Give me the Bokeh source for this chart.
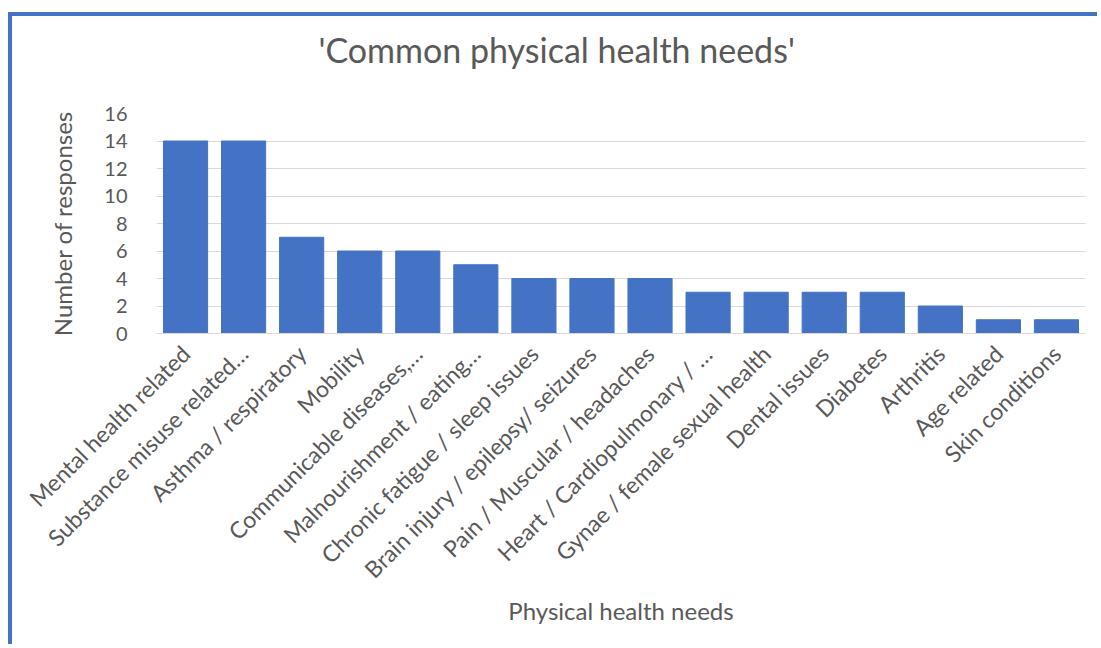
import math
from bokeh.plotting import figure
from bokeh.models import FactorRange, Range1d, Title, SingleIntervalTicker
from bokeh.embed import file_html
from bokeh.resources import INLINE

categories = [
    "Mental health related",
    "Substance misuse related…",
    "Asthma / respiratory",
    "Mobility",
    "Communicable diseases,…",
    "Malnourishment / eating…",
    "Chronic fatigue / sleep issues",
    "Brain injury / epilepsy/ seizures",
    "Pain / Muscular / headaches",
    "Heart / Cardiopulmonary / …",
    "Gynae / female sexual health",
    "Dental issues",
    "Diabetes",
    "Arthritis",
    "Age related",
    "Skin conditions",
]
responses = [14, 14, 7, 6, 6, 5, 4, 4, 4, 3, 3, 3, 3, 2, 1, 1]

title_text = "'Common physical health needs'"
x_title = "Physical health needs"
y_title = "Number of responses"

FONT = "Lato"
TEXT = "#595959"
BLUE = "#4472C4"
GRID = "#D9D9D9"

p = figure(
    width=1089, height=632,
    x_range=FactorRange(factors=categories, range_padding=0),
    y_range=Range1d(0, 16),
    output_backend="svg", toolbar_location=None,
    min_border_left=144, min_border_right=16,
    min_border_top=97, min_border_bottom=315,
)
# chart frame: blue rule along the top and left edges
p.styles = {
    "margin-left": "8px",
    "margin-top": "12px",
    "border-top": f"4px solid {BLUE}",
    "border-left": f"4px solid {BLUE}",
}
p.outline_line_color = None
p.background_fill_color = "white"
p.border_fill_color = "white"

p.vbar(x=categories, top=responses, width=0.76, color=BLUE)

p.yaxis.ticker = SingleIntervalTicker(interval=2)
p.yaxis.axis_line_color = None
p.yaxis.major_tick_line_color = None
p.yaxis.minor_tick_line_color = None
p.yaxis.major_label_standoff = 23
p.yaxis.major_label_text_font = FONT
p.yaxis.major_label_text_font_size = "20px"
p.yaxis.major_label_text_color = TEXT
p.yaxis.axis_label = y_title
p.yaxis.axis_label_standoff = 24
p.yaxis.axis_label_text_font = FONT
p.yaxis.axis_label_text_font_size = "24px"
p.yaxis.axis_label_text_font_style = "normal"
p.yaxis.axis_label_text_color = TEXT

p.xaxis.axis_line_color = GRID
p.xaxis.axis_line_width = 1
p.xaxis.major_tick_line_color = None
p.xaxis.minor_tick_line_color = None
p.xaxis.major_label_orientation = math.pi / 4
p.xaxis.major_label_standoff = 10
p.xaxis.major_label_text_font = FONT
p.xaxis.major_label_text_font_size = "23px"
p.xaxis.major_label_text_color = TEXT
p.xaxis.axis_label = x_title
p.xaxis.axis_label_standoff = 0
p.xaxis.axis_label_text_font = FONT
p.xaxis.axis_label_text_font_size = "24px"
p.xaxis.axis_label_text_font_style = "normal"
p.xaxis.axis_label_text_color = TEXT

p.xgrid.grid_line_color = None
p.ygrid.grid_line_color = GRID
p.ygrid.grid_line_width = 1

# gap between the chart title and the plot area
p.add_layout(Title(text="\u00a0", standoff=41, text_font_size="1px",
                   text_color="white"), "above")
p.add_layout(Title(text=title_text, align="left", offset=162, standoff=0,
                   text_font=FONT, text_font_size="34px", text_font_style="normal",
                   text_color=TEXT), "above")

open("out.html", "w").write(file_html(p, INLINE))
